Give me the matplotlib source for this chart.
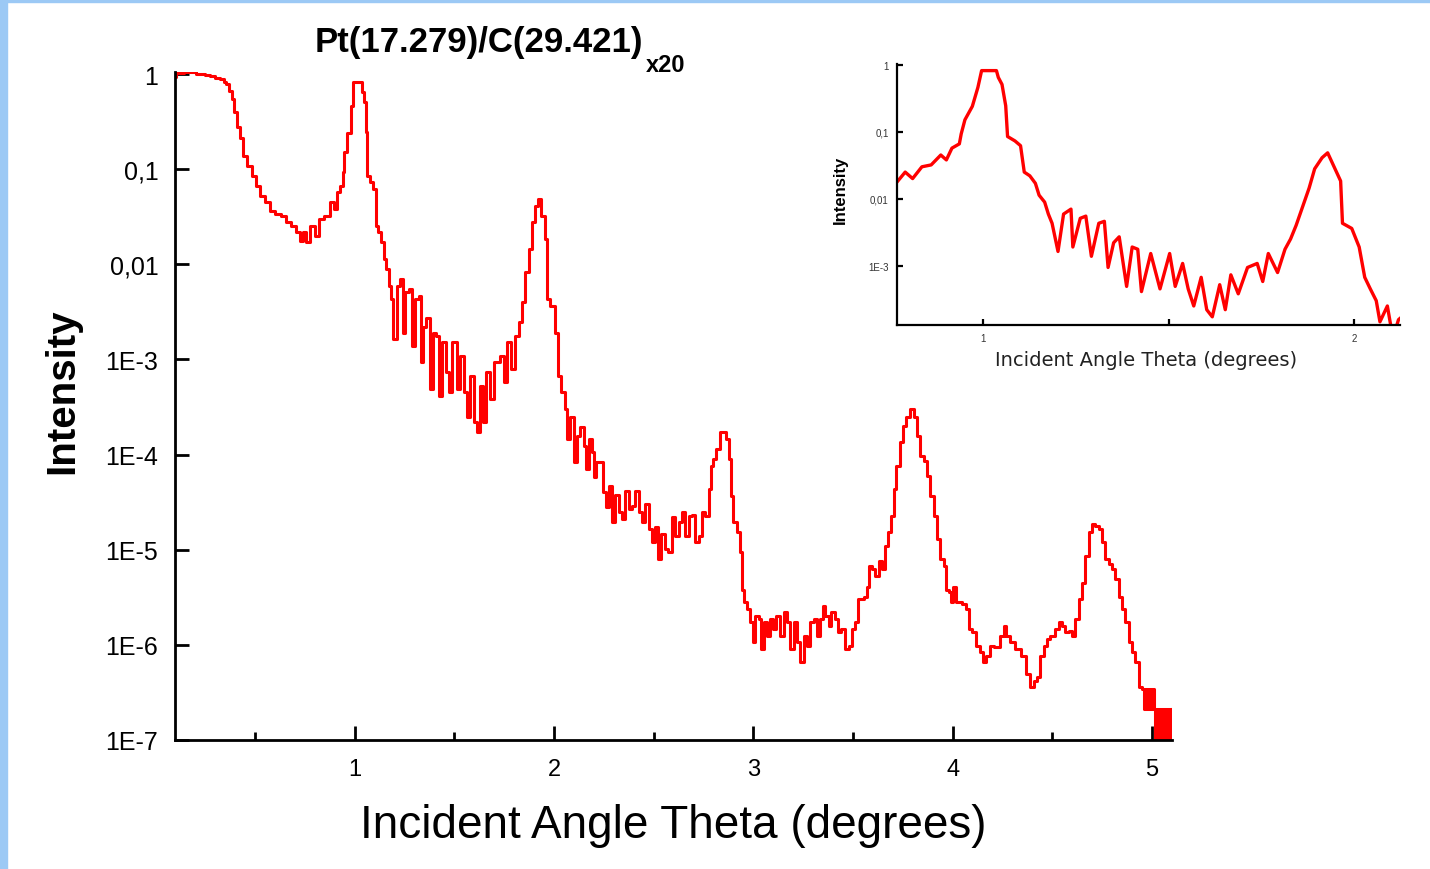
import matplotlib
matplotlib.use("Agg")
import matplotlib.pyplot as plt
from matplotlib.patches import Rectangle
from matplotlib.ticker import NullLocator

plt.rcParams['font.family'] = ['Liberation Sans', 'DejaVu Sans']

# Data
theta = [
    0.098, 0.108, 0.173, 0.238, 0.263, 0.288, 0.314, 0.334, 0.349, 0.359,
    0.374, 0.389, 0.399, 0.414, 0.434, 0.449, 0.474, 0.499, 0.514, 0.539,
    0.564, 0.585, 0.615, 0.640, 0.665, 0.690, 0.715, 0.735, 0.750, 0.765,
    0.790, 0.810, 0.835, 0.860, 0.886, 0.901, 0.916, 0.936, 0.941, 0.951,
    0.971, 0.986, 0.996, 1.036, 1.041, 1.051, 1.061, 1.066, 1.086, 1.101,
    1.111, 1.126, 1.141, 1.151, 1.166, 1.176, 1.186, 1.202, 1.217, 1.237,
    1.242, 1.262, 1.277, 1.292, 1.312, 1.327, 1.337, 1.352, 1.367, 1.387,
    1.402, 1.417, 1.427, 1.452, 1.467, 1.477, 1.503, 1.518, 1.538, 1.553,
    1.568, 1.588, 1.603, 1.618, 1.638, 1.653, 1.668, 1.688, 1.713, 1.739,
    1.754, 1.769, 1.794, 1.814, 1.829, 1.844, 1.864, 1.879, 1.894, 1.914,
    1.929, 1.944, 1.964, 1.969, 1.994, 2.014, 2.029, 2.044, 2.060, 2.070,
    2.090, 2.105, 2.120, 2.140, 2.155, 2.165, 2.180, 2.195, 2.205, 2.220,
    2.240, 2.255, 2.265, 2.281, 2.296, 2.316, 2.331, 2.346, 2.366, 2.381,
    2.396, 2.416, 2.431, 2.446, 2.466, 2.481, 2.496, 2.516, 2.531, 2.546,
    2.566, 2.581, 2.597, 2.617, 2.632, 2.647, 2.667, 2.682, 2.697, 2.717,
    2.732, 2.747, 2.767, 2.782, 2.792, 2.807, 2.822, 2.842, 2.857, 2.872,
    2.882, 2.892, 2.907, 2.923, 2.938, 2.943, 2.958, 2.973, 2.993, 2.998,
    3.018, 3.033, 3.043, 3.058, 3.073, 3.093, 3.108, 3.123, 3.143, 3.159,
    3.174, 3.194, 3.209, 3.224, 3.244, 3.259, 3.274, 3.294, 3.309, 3.324,
    3.344, 3.349, 3.369, 3.384, 3.399, 3.419, 3.434, 3.449, 3.470, 3.485,
    3.500, 3.520, 3.525, 3.545, 3.560, 3.575, 3.585, 3.600, 3.620, 3.635,
    3.650, 3.670, 3.685, 3.700, 3.710, 3.725, 3.745, 3.760, 3.775, 3.796,
    3.811, 3.826, 3.846, 3.861, 3.876, 3.896, 3.911, 3.926, 3.946, 3.961,
    3.976, 3.986, 3.996, 4.011, 4.026, 4.036, 4.061, 4.076, 4.086, 4.111,
    4.126, 4.146, 4.161, 4.176, 4.196, 4.222, 4.247, 4.262, 4.277, 4.302,
    4.327, 4.353, 4.378, 4.398, 4.413, 4.428, 4.448, 4.463, 4.478, 4.498,
    4.523, 4.538, 4.553, 4.573, 4.589, 4.604, 4.624, 4.639, 4.654, 4.674,
    4.689, 4.704, 4.724, 4.739, 4.754, 4.774, 4.789, 4.804, 4.824, 4.839,
    4.854, 4.874, 4.890, 4.905, 4.925, 4.940, 4.955,
    4.960, 4.965, 4.970, 4.975, 4.980, 4.985, 4.990, 4.995, 5.000, 5.005,
    5.010, 5.015, 5.020, 5.025, 5.030, 5.035, 5.040, 5.045, 5.050, 5.055,
    5.060, 5.065, 5.070, 5.075, 5.080, 5.085, 5.090, 5.095, 5.100,
]
intensity = [
    0.93, 1.02, 1.05, 1.0, 0.98, 0.95, 0.91, 0.89, 0.82, 0.79,
    0.66, 0.55, 0.40, 0.28, 0.21, 0.137, 0.108, 0.085, 0.066, 0.052,
    0.045, 0.036, 0.034, 0.032, 0.028, 0.025, 0.022, 0.0175, 0.022, 0.017,
    0.025, 0.020, 0.030, 0.032, 0.045, 0.038, 0.057, 0.066, 0.093, 0.151,
    0.24, 0.46, 0.82, 0.82, 0.65, 0.51, 0.245, 0.085, 0.073, 0.062,
    0.025, 0.022, 0.017, 0.0113, 0.0089, 0.0059, 0.0043, 0.00163, 0.0059, 0.0070,
    0.0019, 0.0051, 0.0055, 0.00138, 0.0043, 0.0046, 0.00094, 0.0022, 0.0027, 0.00049,
    0.0019, 0.00176, 0.00041, 0.00152, 0.00073, 0.00045, 0.00152, 0.00049, 0.00108, 0.00045,
    0.00025, 0.00067, 0.00022, 0.000172, 0.00052, 0.00022, 0.00073, 0.00038, 0.00094, 0.00108,
    0.00058, 0.00152, 0.00079, 0.00176, 0.0025, 0.0040, 0.0083, 0.0144, 0.028, 0.041,
    0.0485, 0.032, 0.0184, 0.0043, 0.0036, 0.0019, 0.00067, 0.00045, 0.00030, 0.000145,
    0.00025, 8.3e-5, 0.000156, 0.000194, 0.000123, 7.0e-5, 0.000145, 0.000106, 5.8e-5, 8.3e-5,
    8.3e-5, 4.0e-5, 2.8e-5, 4.7e-5, 1.95e-5, 3.8e-5, 2.5e-5, 2.1e-5, 4.1e-5, 2.7e-5,
    2.9e-5, 4.1e-5, 2.5e-5, 1.95e-5, 3.0e-5, 1.64e-5, 1.2e-5, 1.73e-5, 7.9e-6, 1.46e-5,
    1.01e-5, 9.4e-6, 2.2e-5, 1.39e-5, 1.95e-5, 2.5e-5, 1.39e-5, 2.25e-5, 2.3e-5, 1.2e-5,
    1.39e-5, 2.5e-5, 2.25e-5, 4.3e-5, 7.5e-5, 8.9e-5, 1.14e-4, 1.72e-4, 1.72e-4, 1.45e-4,
    8.9e-5, 3.7e-5, 1.95e-5, 1.53e-5, 9.4e-6, 3.8e-6, 2.8e-6, 2.37e-6, 1.73e-6, 1.06e-6,
    2.0e-6, 1.86e-6, 9.0e-7, 1.73e-6, 1.23e-6, 1.86e-6, 1.46e-6, 2.0e-6, 1.23e-6, 2.2e-6,
    1.73e-6, 9.0e-7, 1.73e-6, 1.06e-6, 6.6e-7, 1.23e-6, 9.7e-7, 1.73e-6, 1.86e-6, 1.23e-6,
    1.86e-6, 2.55e-6, 2.0e-6, 1.57e-6, 2.2e-6, 1.86e-6, 1.36e-6, 1.46e-6, 9.0e-7, 9.7e-7,
    1.46e-6, 1.73e-6, 3.0e-6, 3.0e-6, 3.2e-6, 4.1e-6, 6.7e-6, 6.2e-6, 5.3e-6, 7.6e-6,
    6.2e-6, 1.09e-5, 1.53e-5, 2.25e-5, 4.3e-5, 7.5e-5, 1.35e-4, 2.0e-4, 2.5e-4, 3.0e-4,
    2.5e-4, 1.56e-4, 9.6e-5, 8.5e-5, 5.9e-5, 3.7e-5, 2.25e-5, 1.29e-5, 7.9e-6, 6.7e-6,
    3.8e-6, 3.6e-6, 2.8e-6, 4.1e-6, 2.8e-6, 2.8e-6, 2.67e-6, 2.37e-6, 1.46e-6, 1.36e-6,
    9.7e-7, 8.4e-7, 6.6e-7, 7.6e-7, 9.7e-7, 9.5e-7, 1.23e-6, 1.57e-6, 1.23e-6, 1.06e-6,
    9.0e-7, 7.6e-7, 4.9e-7, 3.6e-7, 4.2e-7, 4.6e-7, 7.6e-7, 9.7e-7, 1.15e-6, 1.23e-6,
    1.46e-6, 1.73e-6, 1.57e-6, 1.36e-6, 1.4e-6, 1.23e-6, 1.86e-6, 3.0e-6, 4.5e-6, 8.5e-6,
    1.53e-5, 1.85e-5, 1.76e-5, 1.64e-5, 1.2e-5, 7.9e-6, 7.0e-6, 6.2e-6, 4.9e-6, 3.2e-6,
    2.37e-6, 1.73e-6, 1.06e-6, 8.4e-7, 6.6e-7, 3.6e-7, 3.4e-7,
    2.1e-7, 3.4e-7, 2.1e-7, 3.4e-7, 2.1e-7, 3.4e-7, 2.1e-7, 3.4e-7, 2.1e-7, 3.4e-7,
    2.1e-7, 5e-8, 2.1e-7, 5e-8, 2.1e-7, 5e-8, 2.1e-7, 5e-8, 2.1e-7, 5e-8,
    2.1e-7, 5e-8, 2.1e-7, 5e-8, 2.1e-7, 5e-8, 2.1e-7, 5e-8, 2.1e-7,
]

main_yticks = [1e-7, 1e-6, 1e-5, 1e-4, 1e-3, 1e-2, 1e-1, 1]
main_ylabels = ["1E-7", "1E-6", "1E-5", "1E-4", "1E-3", "0,01", "0,1", "1"]
main_xticks = [1, 2, 3, 4, 5]
inset_yticks = [1e-3, 1e-2, 1e-1, 1]
inset_ylabels = ["1E-3", "0,01", "0,1", "1"]

red = "#FF0000"

fig = plt.figure(figsize=(14.3, 8.7), dpi=100)

# light blue frame on the left and top edges
fig.patches.append(Rectangle((0, 0), 7 / 1430, 1, transform=fig.transFigure,
                             color="#9CC9F5", zorder=0))
fig.patches.append(Rectangle((0, 1 - 3 / 870), 1, 3 / 870, transform=fig.transFigure,
                             color="#9CC9F5", zorder=0))

# main axes
ax = fig.add_axes([0.1224, 0.1483, 0.6972, 0.7678])
ax.plot(theta, intensity, color=red, lw=2.2, drawstyle="steps-mid")
ax.set_yscale("log")
ax.set_xlim(0.098, 5.10)
ax.set_ylim(1e-7, 1.05)
ax.set_yticks(main_yticks, labels=main_ylabels)
ax.yaxis.set_minor_locator(NullLocator())
ax.set_xticks(main_xticks)
ax.set_xticks([0.5, 1.5, 2.5, 3.5, 4.5], minor=True)
for s in ["top", "right"]:
    ax.spines[s].set_visible(False)
for s in ["left", "bottom"]:
    ax.spines[s].set_linewidth(2)
ax.tick_params(axis="y", direction="in", length=10, width=2, pad=12, labelsize=18)
ax.tick_params(axis="x", which="major", direction="in", length=10, width=2, pad=13, labelsize=17)
ax.tick_params(axis="x", which="minor", direction="in", length=6, width=2)

fig.text(62 / 1430, 1 - 391 / 870, "Intensity", rotation=90, ha="center", va="center",
         fontsize=29, fontweight="bold")
fig.text(673 / 1430, 1 - 826 / 870, "Incident Angle Theta (degrees)", ha="center",
         va="center", fontsize=33)
fig.text(479 / 1430, 1 - 52 / 870, "Pt(17.279)/C(29.421)", ha="center", va="baseline",
         fontsize=25, fontweight="bold")
fig.text(646 / 1430, 1 - 72 / 870, "x20", ha="left", va="baseline",
         fontsize=17, fontweight="bold")

# inset: zoom on the first two Bragg peaks
axi = fig.add_axes([0.6273, 0.6253, 0.3517, 0.300])
axi.plot(theta, intensity, color=red, lw=2.4, solid_joinstyle="round")
axi.set_yscale("log")
axi.set_xlim(0.768, 2.124)
axi.set_ylim(1.3e-4, 1.03)
axi.set_yticks(inset_yticks, labels=inset_ylabels)
axi.yaxis.set_minor_locator(NullLocator())
axi.set_xticks([1, 1.5, 2], labels=["1", "", "2"])
for s in ["top", "right"]:
    axi.spines[s].set_visible(False)
for s in ["left", "bottom"]:
    axi.spines[s].set_linewidth(1.6)
axi.tick_params(axis="both", direction="in", length=4.5, width=1.6, labelsize=7,
                labelcolor="#333333", pad=6)

fig.text(840 / 1430, 1 - 190 / 870, "Intensity", rotation=90, ha="center", va="center",
         fontsize=12, fontweight="bold")
fig.text(1146 / 1430, 1 - 361 / 870, "Incident Angle Theta (degrees)", ha="center",
         va="center", fontsize=14, family="DejaVu Sans", color="#222222")

fig.savefig("out.png", dpi=100, facecolor="white")
